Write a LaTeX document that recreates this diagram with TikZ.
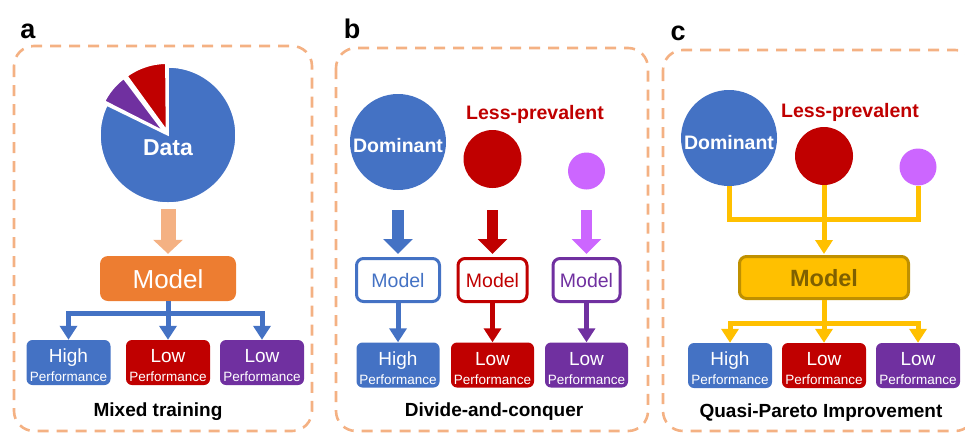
\documentclass[tikz,border=0pt]{standalone}
\usepackage{fontspec}
\setmainfont{Liberation Sans}
\usetikzlibrary{arrows.meta,calc}
\definecolor{cblue}{HTML}{4472C4}
\definecolor{cred}{HTML}{C00000}
\definecolor{cpurple}{HTML}{7030A0}
\definecolor{cpink}{HTML}{CC66FF}
\definecolor{corange}{HTML}{ED7D31}
\definecolor{clorange}{HTML}{F4B183}
\definecolor{cyellow}{HTML}{FFC000}
\definecolor{cdyellow}{HTML}{BF9000}
\definecolor{cbrown}{HTML}{7F6000}
\newcommand\perftxt[1]{\begin{tabular}[t]{@{}c@{}}#1\\\fontsize{13.5}{13.5}\selectfont Performance\end{tabular}}
\begin{document}
\begin{tikzpicture}[x=1pt,y=-1pt,
  frame/.style={draw=clorange, line width=2.6pt, dash pattern=on 11pt off 8pt, rounded corners=20pt},
  panellbl/.style={anchor=base, inner sep=0pt, font=\fontsize{27}{27}\selectfont\bfseries},
  caption/.style={anchor=base, inner sep=0pt, font=\fontsize{19}{19}\selectfont\bfseries},
  outbox/.style={rounded corners=6pt, minimum height=45pt, minimum width=84pt, text height=22pt, text depth=22pt, inner sep=0pt, text=white, font=\fontsize{19}{19}\selectfont},
  disc/.style={circle, inner sep=0pt},
  circtxt/.style={anchor=base, inner sep=0pt, text=white, font=\fontsize{19.5}{19.5}\selectfont\bfseries},
  lesstxt/.style={anchor=base, inner sep=0pt, text=cred, font=\fontsize{19.5}{19.5}\selectfont\bfseries},
  fatA/.style={line width=15pt, -{Triangle[width=29pt,length=14pt]}},
  fatB/.style={line width=11.5pt, -{Triangle[width=29pt,length=15pt]}, shorten >=3pt},
  conn/.style={line width=5pt, -{Triangle[width=17pt,length=14pt]}},
  mbox/.style={draw, line width=3pt, fill=white, rounded corners=7pt, minimum height=43pt, inner sep=0pt, text height=14pt, text depth=0pt, font=\fontsize{19.5}{19.5}\selectfont},
  slice/.style={draw=white, line width=1.5pt}
]
\useasboundingbox (0,0) rectangle (965,432);
\clip (0,0) rectangle (965,432);

% frames
\draw[frame] (14,46) rectangle (312,431);
\draw[frame] (336,48) rectangle (648,431);
\draw[frame] (663,50) rectangle (975,431);

% panel labels
\node[panellbl] (la) at (28,38) {a};
\node[panellbl] (lb) at (352,38) {b};
\node[panellbl] (lc) at (678,40) {c};

% ---------------- panel a ----------------
\coordinate (pc) at (168,135);
\fill[cblue, slice] (pc) -- ++(-90:68) arc[start angle=-90, end angle=206, radius=68] -- cycle;
\coordinate (pcp) at ($(pc)+(220:6)$);
\fill[cpurple, slice] (pcp) -- ++(207:66) arc[start angle=207, end angle=233, radius=66] -- cycle;
\coordinate (pcr) at ($(pc)+(252:5)$);
\fill[cred, slice] (pcr) -- ++(234:67) arc[start angle=234, end angle=269.5, radius=67] -- cycle;
\node[disc, minimum size=136pt] (pieA) at (pc) {};
\node[circtxt, font=\fontsize{23}{23}\selectfont\bfseries] (dataA) at (168,155) {Data};

\node[fill=corange, rounded corners=8pt, minimum width=136pt, minimum height=45pt, inner sep=0pt, text height=19pt, text depth=0pt, text=white, font=\fontsize{26}{26}\selectfont] (mdA) at (168,278.5) {Model};
\draw[fatA, clorange, shorten <=6pt, shorten >=2pt] (pieA.south) -- (mdA.north);

\node[outbox, fill=cblue] (hiA) at (68.5,362.5) {\perftxt{High}};
\node[outbox, fill=cred] (loA) at (168,362.5) {\perftxt{Low}};
\node[outbox, fill=cpurple] (lpA) at (262,362.5) {\perftxt{Low}};
\coordinate (jA) at (168,313);
\draw[conn, cblue] (mdA.south) -- (loA.north);
\draw[conn, cblue] (jA) -| (hiA.north);
\draw[conn, cblue] (jA) -| (lpA.north);
\node[caption] (capA) at (158,416) {Mixed training};

% ---------------- panel b ----------------
\node[disc, fill=cblue, minimum size=96pt] (domB) at (398,142) {};
\node[circtxt] (domBt) at (398,152) {Dominant};
\node[disc, fill=cred, minimum size=58pt] (redB) at (492.5,159) {};
\node[disc, fill=cpink, minimum size=37pt] (pkB) at (586.5,171) {};
\node[lesstxt] (lessB) at (535,119) {Less-prevalent};

\node[mbox, draw=cblue, text=cblue, minimum width=83pt] (mdB1) at (398,280) {Model};
\node[mbox, draw=cred, text=cred, minimum width=69pt] (mdB2) at (492.5,280) {Model};
\node[mbox, draw=cpurple, text=cpurple, minimum width=67pt] (mdB3) at (586.5,280) {Model};
\coordinate (yB) at (0,210);
\draw[fatB, cblue] (domB |- yB) -- (mdB1.north);
\draw[fatB, cred] (redB |- yB) -- (mdB2.north);
\draw[fatB, cpink] (pkB |- yB) -- (mdB3.north);

\node[outbox, fill=cblue, minimum width=83pt] (hiB) at (398,365) {\perftxt{High}};
\node[outbox, fill=cred, minimum width=83pt] (loB) at (492.5,365) {\perftxt{Low}};
\node[outbox, fill=cpurple, minimum width=83pt] (lpB) at (586.5,365) {\perftxt{Low}};
\draw[conn, cblue] (mdB1.south) -- (hiB.north);
\draw[conn, cred] (mdB2.south) -- (loB.north);
\draw[conn, cpurple] (mdB3.south) -- (lpB.north);
\node[caption] (capB) at (494,416) {Divide-and-conquer};

% ---------------- panel c ----------------
\node[disc, fill=cblue, minimum size=96pt] (domC) at (729,138) {};
\node[circtxt] (domCt) at (729,149) {Dominant};
\node[disc, fill=cred, minimum size=58pt] (redC) at (824,156) {};
\node[disc, fill=cpink, minimum size=37pt] (pkC) at (918,167) {};
\node[lesstxt] (lessC) at (850,117) {Less-prevalent};

\node[draw=cdyellow, fill=cyellow, line width=3pt, rounded corners=7pt, minimum width=169pt, minimum height=42pt, inner sep=0pt, text height=17pt, text depth=0pt, text=cbrown, font=\fontsize{23.5}{23.5}\selectfont\bfseries] (mdC) at (824,277.5) {Model};
\coordinate (jC1) at (824,219);
\draw[line width=5pt, cyellow] (domC.south) -- (domC |- jC1) -- (pkC |- jC1) -- (pkC.south);
\draw[conn, cyellow, shorten >=1pt] (redC.south) -- (mdC.north);

\node[outbox, fill=cblue] (hiC) at (730,365.5) {\perftxt{High}};
\node[outbox, fill=cred] (loC) at (824,365.5) {\perftxt{Low}};
\node[outbox, fill=cpurple] (lpC) at (918,365.5) {\perftxt{Low}};
\coordinate (jC2) at (824,323);
\draw[conn, cyellow] (mdC.south) -- (loC.north);
\draw[conn, cyellow] (jC2) -| (hiC.north);
\draw[conn, cyellow] (jC2) -| (lpC.north);
\node[caption] (capC) at (821,417) {Quasi-Pareto Improvement};
\end{tikzpicture}
\end{document}
